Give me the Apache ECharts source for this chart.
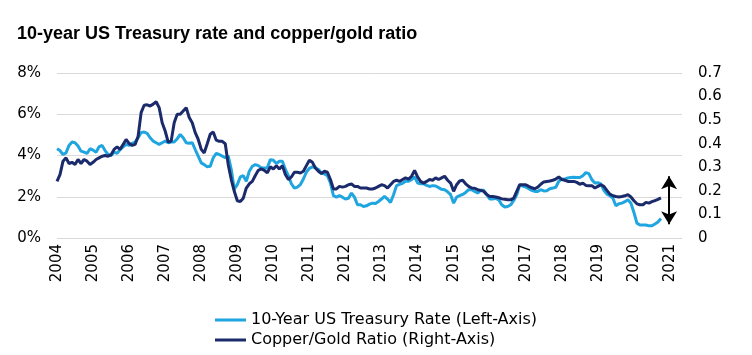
<!DOCTYPE html>
<html>
<head>
<meta charset="utf-8">
<script src="https://cdn.jsdelivr.net/npm/echarts@6/dist/echarts.min.js"></script>
<style>html,body{margin:0;padding:0;background:#fff;}#c{width:752px;height:355px;}</style>
</head>
<body>
<div id="c"></div>
<script>
// Tick labels (one per January, Jan 2004 = month 0)
const yearLabels = ['2004','2005','2006','2007','2008','2009','2010','2011','2012','2013','2014','2015','2016','2017','2018','2019','2020','2021'];
const leftTicks = [0, 2, 4, 6, 8];
const rightTicks = [0, 0.1, 0.2, 0.3, 0.4, 0.5, 0.6, 0.7];

// 10-Year US Treasury rate (%), monthly from Jan 2004
const treasury = [
  4.33, 4.24, 4.05, 4.13, 4.49, 4.65, 4.62, 4.46, 4.21, 4.16, 4.10, 4.33,
  4.26, 4.16, 4.42, 4.49, 4.24, 4.05, 4.00, 4.16, 4.10, 4.29, 4.42, 4.54,
  4.49, 4.59, 4.65, 4.86, 5.11, 5.14, 5.07, 4.86, 4.70, 4.62, 4.54, 4.62,
  4.70, 4.62, 4.65, 4.65, 4.81, 5.02, 4.86, 4.62, 4.59, 4.62, 4.29, 3.97,
  3.64, 3.56, 3.45, 3.48, 3.89, 4.10, 4.05, 3.97, 3.89, 3.97, 3.32, 2.37,
  2.59, 2.96, 3.02, 2.75, 3.24, 3.48, 3.56, 3.51, 3.40, 3.40, 3.40, 3.80,
  3.77, 3.61, 3.72, 3.72, 3.32, 3.02, 2.63, 2.42, 2.47, 2.59, 2.86, 3.19,
  3.38, 3.45, 3.40, 3.32, 3.15, 3.11, 3.02, 2.67, 2.05, 1.98, 2.05, 1.98,
  1.89, 1.93, 2.18, 1.98, 1.61, 1.61, 1.53, 1.56, 1.64, 1.69, 1.67, 1.77,
  1.89, 2.02, 1.89, 1.72, 2.10, 2.54, 2.60, 2.65, 2.75, 2.75, 2.83, 2.96,
  2.67, 2.63, 2.63, 2.55, 2.50, 2.54, 2.52, 2.44, 2.36, 2.34, 2.24, 2.10,
  1.69, 1.98, 2.05, 2.11, 2.21, 2.34, 2.34, 2.26, 2.18, 2.31, 2.31, 2.10,
  1.89, 1.89, 1.92, 1.85, 1.61, 1.50, 1.53, 1.61, 1.82, 2.10, 2.57, 2.52,
  2.47, 2.39, 2.31, 2.26, 2.26, 2.34, 2.28, 2.29, 2.39, 2.42, 2.46, 2.75,
  2.86, 2.85, 2.91, 2.93, 2.94, 2.93, 2.93, 3.02, 3.17, 3.12, 2.83, 2.67,
  2.68, 2.62, 2.31, 2.13, 2.05, 1.93, 1.56, 1.66, 1.69, 1.76, 1.85, 1.69,
  1.24, 0.72, 0.63, 0.63, 0.63, 0.59, 0.59, 0.68, 0.78, 0.94
];

// Copper/Gold ratio, monthly from Jan 2004
const copperGold = [
  0.240, 0.269, 0.326, 0.340, 0.316, 0.321, 0.312, 0.333, 0.316, 0.333, 0.326, 0.312,
  0.321, 0.333, 0.340, 0.347, 0.350, 0.347, 0.353, 0.376, 0.387, 0.376, 0.397, 0.418,
  0.401, 0.393, 0.397, 0.432, 0.532, 0.563, 0.565, 0.560, 0.568, 0.578, 0.553, 0.489,
  0.454, 0.407, 0.411, 0.489, 0.525, 0.525, 0.539, 0.553, 0.511, 0.489, 0.447, 0.418,
  0.376, 0.361, 0.400, 0.440, 0.450, 0.415, 0.410, 0.410, 0.400, 0.310, 0.248, 0.198,
  0.158, 0.155, 0.169, 0.212, 0.230, 0.240, 0.265, 0.287, 0.293, 0.287, 0.276, 0.302,
  0.293, 0.307, 0.293, 0.307, 0.269, 0.248, 0.259, 0.279, 0.279, 0.276, 0.283, 0.307,
  0.330, 0.321, 0.297, 0.283, 0.273, 0.283, 0.279, 0.248, 0.208, 0.208, 0.219, 0.216,
  0.219, 0.226, 0.229, 0.219, 0.219, 0.212, 0.212, 0.212, 0.208, 0.208, 0.212, 0.219,
  0.226, 0.222, 0.212, 0.226, 0.240, 0.245, 0.240, 0.248, 0.255, 0.250, 0.262, 0.287,
  0.259, 0.240, 0.233, 0.240, 0.248, 0.245, 0.255, 0.248, 0.255, 0.262, 0.245, 0.233,
  0.198, 0.226, 0.242, 0.245, 0.230, 0.219, 0.212, 0.211, 0.205, 0.202, 0.198, 0.185,
  0.176, 0.176, 0.174, 0.171, 0.166, 0.164, 0.162, 0.162, 0.169, 0.198, 0.226, 0.226,
  0.226, 0.219, 0.213, 0.209, 0.216, 0.228, 0.238, 0.240, 0.242, 0.245, 0.250, 0.259,
  0.248, 0.245, 0.240, 0.240, 0.240, 0.236, 0.228, 0.233, 0.223, 0.222, 0.222, 0.212,
  0.219, 0.226, 0.219, 0.202, 0.186, 0.179, 0.176, 0.174, 0.176, 0.179, 0.184, 0.174,
  0.158, 0.145, 0.141, 0.141, 0.151, 0.148, 0.154, 0.159, 0.164, 0.170
];

// Double-headed annotation arrow (month index, ratio values)
const arrowMonth = 203.7;
const arrowTop = 0.262;
const arrowBottom = 0.058;

const AXIS_FONT = 'DejaVu Sans';
const chart = echarts.init(document.getElementById('c'), null, {renderer: 'canvas'});
chart.setOption({
  animation: false,
  backgroundColor: '#fff',
  title: {
    text: '10-year US Treasury rate and copper/gold ratio',
    left: 17, top: 25, padding: 0,
    textStyle: {fontFamily: 'Liberation Sans', fontWeight: 'bold', fontSize: 18, color: '#000'}
  },
  legend: {
    orient: 'vertical', left: 'center', top: 312, padding: 0,
    itemWidth: 31, itemHeight: 14, itemGap: 4,
    textStyle: {fontFamily: AXIS_FONT, fontSize: 16, color: '#000'},
    data: [
      {name: '10-Year US Treasury Rate (Left-Axis)', icon: 'path://M0,6 L31,6 L31,9 L0,9 Z'},
      {name: 'Copper/Gold Ratio (Right-Axis)', icon: 'path://M0,6 L31,6 L31,9 L0,9 Z'}
    ]
  },
  grid: {left: 57, right: 70, top: 73, bottom: 117},
  xAxis: {
    type: 'value', min: 0, max: 208, interval: 12,
    axisLine: {show: false}, axisTick: {show: false}, splitLine: {show: false},
    axisLabel: {
      rotate: 90, margin: 6, fontFamily: AXIS_FONT, fontSize: 15, color: '#000',
      showMaxLabel: false,
      formatter: v => (v % 12 === 0 ? (yearLabels[v / 12] || '') : '')
    }
  },
  yAxis: [
    {
      type: 'value', min: leftTicks[0], max: leftTicks[leftTicks.length - 1], interval: 2,
      position: 'left',
      axisLine: {show: false}, axisTick: {show: false},
      splitLine: {lineStyle: {color: '#d9d9d9', width: 1}},
      axisLabel: {margin: 16, fontFamily: AXIS_FONT, fontSize: 15, color: '#000', formatter: '{value}%'}
    },
    {
      type: 'value', min: rightTicks[0], max: rightTicks[rightTicks.length - 1], interval: 0.1,
      position: 'right',
      axisLine: {show: false}, axisTick: {show: false}, splitLine: {show: false},
      axisLabel: {margin: 16, fontFamily: AXIS_FONT, fontSize: 15, color: '#000',
        formatter: v => String(Math.round(v * 10) / 10)}
    }
  ],
  series: [
    {
      name: '10-Year US Treasury Rate (Left-Axis)', type: 'line', yAxisIndex: 0,
      symbol: 'none', color: '#1fa5df',
      lineStyle: {width: 3, color: '#1fa5df'},
      data: treasury.map((v, i) => [i, v])
    },
    {
      name: 'Copper/Gold Ratio (Right-Axis)', type: 'line', yAxisIndex: 1,
      symbol: 'none', color: '#1b2a6b',
      lineStyle: {width: 3, color: '#1b2a6b'},
      data: copperGold.map((v, i) => [i, v]),
      markLine: {
        silent: true, symbol: ['arrow', 'arrow'], symbolSize: [12, 13],
        label: {show: false},
        lineStyle: {color: '#000', width: 2, type: 'solid'},
        data: [[{coord: [arrowMonth, arrowTop]}, {coord: [arrowMonth, arrowBottom]}]]
      }
    }
  ]
});
</script>
</body>
</html>
